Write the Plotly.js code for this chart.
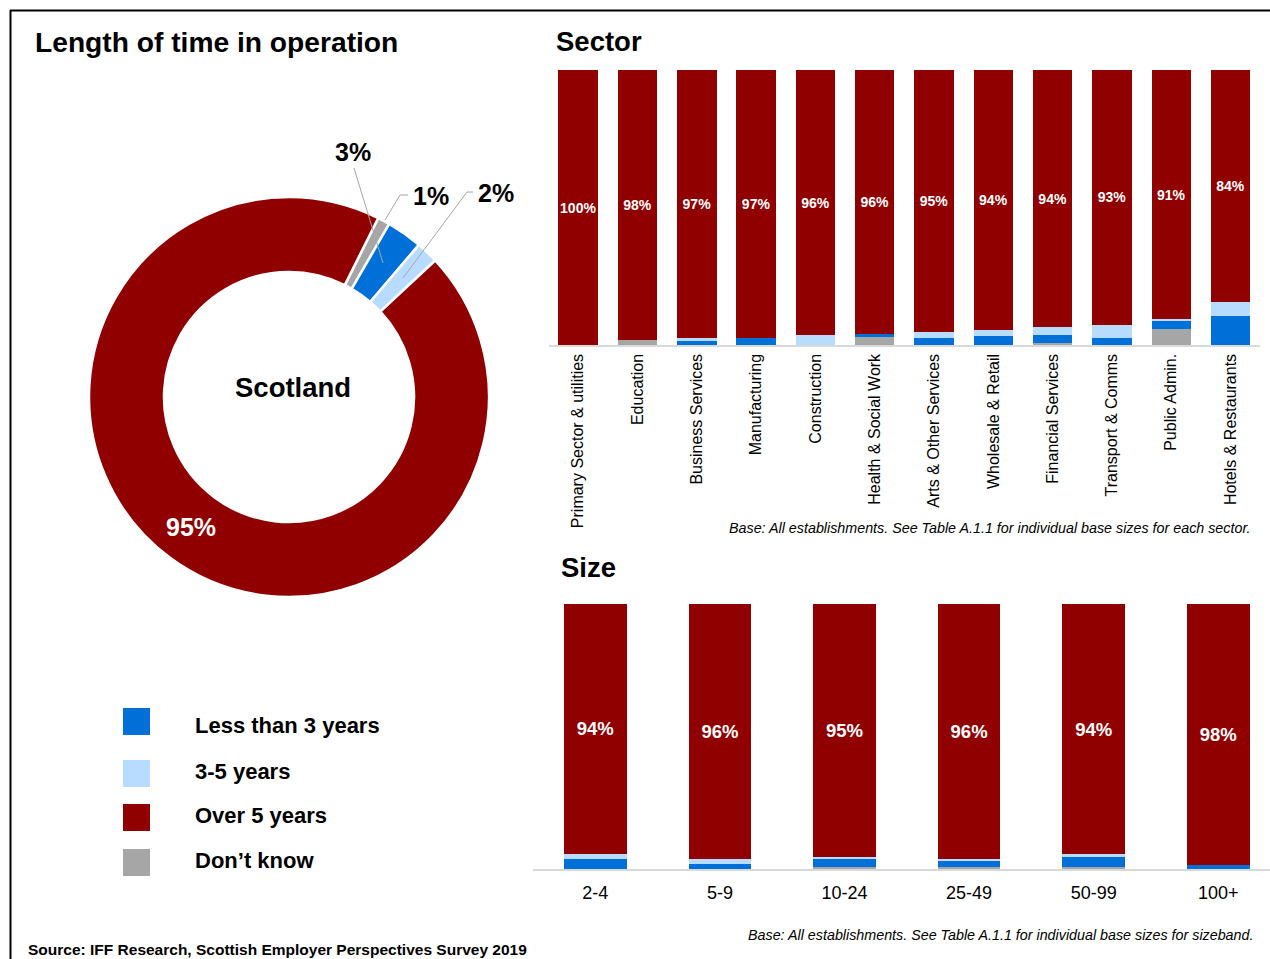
<!DOCTYPE html>
<html><head><meta charset="utf-8">
<script src="https://cdn.plot.ly/plotly-3.0.1.min.js"></script>
<style>html,body{margin:0;padding:0;background:#fff}#chart{width:1270px;height:959px}</style>
</head><body><div id="chart"></div>
<script>
// ---- data ----
const seriesNames = ['Less than 3 years', '3-5 years', 'Over 5 years', 'Don’t know'];
const seriesColors = ['#0070d9', '#b8dcff', '#900000', '#a6a6a6'];

const donutCentreLabel = 'Scotland';
const donutLabels = ['Don’t know', 'Less than 3 years', '3-5 years', 'Over 5 years'];
const donutValues = [1.0, 2.9, 1.8, 94.6];

const sectors = ['Primary Sector & utilities', 'Education', 'Business Services', 'Manufacturing', 'Construction',
  'Health & Social Work', 'Arts & Other Services', 'Wholesale & Retail', 'Financial Services',
  'Transport & Comms', 'Public Admin.', 'Hotels & Restaurants'];
const sectorLess3 = [0, 0, 1.3, 2.6, 0, 1.2, 2.7, 3.3, 2.8, 2.7, 2.9, 10.7];
const sector3to5 = [0, 0, 1.2, 0, 3.6, 0, 2.1, 2.3, 2.8, 4.7, 0.8, 5.1];
const sectorOver5 = [100, 98.3, 97.4, 97.4, 96.4, 96.0, 95.2, 94.4, 93.6, 92.6, 90.6, 84.2];
const sectorDontKnow = [0, 1.7, 0, 0, 0, 2.8, 0, 0, 0.8, 0, 5.7, 0];

const sizes = ['2-4', '5-9', '10-24', '25-49', '50-99', '100+'];
const sizeLess3 = [3.8, 1.9, 2.8, 2.3, 3.8, 1.6];
const size3to5 = [2.0, 2.0, 0.9, 0.9, 1.0, 0];
const sizeOver5 = [94.2, 96.1, 95.4, 96.0, 94.4, 98.4];
const sizeDontKnow = [0, 0, 0.9, 0.8, 0.8, 0];

const mainTitle = 'Length of time in operation';
const sectorTitle = 'Sector';
const sizeTitle = 'Size';
const sectorNote = 'Base: All establishments. See Table A.1.1 for individual base sizes for each sector.';
const sizeNote = 'Base: All establishments. See Table A.1.1 for individual base sizes for sizeband.';
const sourceNote = 'Source: IFF Research, Scottish Employer Perspectives Survey 2019';

// ---- helpers ----
const W = 1270, H = 959;
const FONT = 'Liberation Sans, Arial, sans-serif';
const px = x => x / W;
const py = y => 1 - y / H;
const colorOf = name => seriesColors[seriesNames.indexOf(name)];

function stackTraces(cats, dk, l3, m35, o5, xa, ya, barWidth, textSize) {
  const list = [[seriesNames[3], dk], [seriesNames[0], l3], [seriesNames[1], m35], [seriesNames[2], o5]];
  return list.map(([name, vals]) => {
    const t = {
      type: 'bar', name: name, x: cats, y: vals, xaxis: xa, yaxis: ya, width: barWidth,
      marker: {color: colorOf(name), line: {width: 0}},
      hoverinfo: 'skip', showlegend: false
    };
    if (name === seriesNames[2]) {
      t.texttemplate = '<b>%{y:.0f}%</b>';
      t.textposition = 'inside';
      t.insidetextanchor = 'middle';
      t.constraintext = 'none';
      t.textangle = 0;
      t.textfont = {color: '#ffffff', size: textSize, family: FONT};
    } else {
      t.textposition = 'none';
    }
    return t;
  });
}

const traces = [];
traces.push({
  type: 'pie', labels: donutLabels, values: donutValues, sort: false,
  direction: 'clockwise', rotation: 26.5, hole: 0.625,
  marker: {colors: donutLabels.map(colorOf), line: {color: '#ffffff', width: 2.5}},
  textinfo: 'none', hoverinfo: 'skip', showlegend: false,
  domain: {x: [px(89), px(489)], y: [py(597), py(197)]}
});
traces.push(...stackTraces(sectors, sectorDontKnow, sectorLess3, sector3to5, sectorOver5, 'x', 'y', 0.666, 14));
traces.push(...stackTraces(sizes, sizeDontKnow, sizeLess3, size3to5, sizeOver5, 'x2', 'y2', 0.504, 18.5));

const ann = [];
const shapes = [];
function text(t, x, y, size, opts) {
  ann.push(Object.assign({text: t, x: px(x), y: py(y), xref: 'paper', yref: 'paper', showarrow: false,
    xanchor: 'left', yanchor: 'middle', font: {family: FONT, size: size, color: '#000000'}}, opts || {}));
}
function line(pts) {
  for (let i = 0; i < pts.length - 1; i++) {
    shapes.push({type: 'line', xref: 'paper', yref: 'paper', x0: px(pts[i][0]), y0: py(pts[i][1]),
      x1: px(pts[i + 1][0]), y1: py(pts[i + 1][1]), line: {color: '#a6a6a6', width: 1}});
  }
}

// titles
text('<b>' + mainTitle + '</b>', 33, 42, 28.2);
text('<b>' + sectorTitle + '</b>', 554, 42, 27.5);
text('<b>' + sizeTitle + '</b>', 559, 567, 27.5);
// donut labels
const pct = v => Math.round(v) + '%';
text('<b>' + donutCentreLabel + '</b>', 293, 387, 27.5, {xanchor: 'center'});
text('<b>' + pct(donutValues[3]) + '</b>', 191, 527, 25, {xanchor: 'center', font: {family: FONT, size: 25, color: '#ffffff'}});
text('<b>' + pct(donutValues[1]) + '</b>', 353, 152, 25, {xanchor: 'center'});
text('<b>' + pct(donutValues[0]) + '</b>', 431, 196, 25, {xanchor: 'center'});
text('<b>' + pct(donutValues[2]) + '</b>', 496, 193, 25, {xanchor: 'center'});
line([[354, 168], [383, 263]]);
line([[408, 195], [400, 195], [385, 220]]);
line([[473, 192], [467, 192], [403, 278]]);

// legend
const legendRows = [[seriesNames[0], 721.5, 725], [seriesNames[1], 773.5, 771], [seriesNames[2], 817.5, 815], [seriesNames[3], 862.5, 860]];
legendRows.forEach(([name, yc, yt]) => {
  shapes.push({type: 'rect', xref: 'paper', yref: 'paper', x0: px(123), x1: px(150), y0: py(yc + 13.5), y1: py(yc - 13.5),
    fillcolor: colorOf(name), line: {width: 0}});
  text('<b>' + name + '</b>', 193, yt, 22);
});

// notes
text('<i>' + sectorNote + '</i>', 1253, 528, 14.3, {xanchor: 'right'});
text('<i>' + sizeNote + '</i>', 1255, 935, 14.3, {xanchor: 'right'});
text('<b>' + sourceNote + '</b>', 26, 949, 15.5);

// frame
shapes.push({type: 'line', xref: 'paper', yref: 'paper', x0: px(10), x1: px(1275), y0: py(10.5), y1: py(10.5), line: {color: '#000000', width: 2}});
shapes.push({type: 'line', xref: 'paper', yref: 'paper', x0: px(10.5), x1: px(10.5), y0: py(10), y1: py(965), line: {color: '#000000', width: 2}});

const layout = {
  width: W, height: H, margin: {l: 0, r: 0, t: 0, b: 0},
  paper_bgcolor: '#ffffff', plot_bgcolor: 'rgba(0,0,0,0)',
  barmode: 'stack', showlegend: false,
  font: {family: FONT, color: '#000000'},
  xaxis: {domain: [px(548.6), px(1260.2)], type: 'category', range: [-0.5, 11.5], tickangle: -90,
    showline: true, linecolor: '#d9d9d9', linewidth: 1.5, showgrid: false, zeroline: false, ticks: '',
    ticklabelstandoff: 1, tickfont: {size: 16, family: FONT, color: '#000000'}, fixedrange: true},
  yaxis: {domain: [py(345), py(70)], range: [0, 100], visible: false, fixedrange: true},
  xaxis2: {domain: [px(533), 1], type: 'category', range: [-0.5, 5.415], anchor: 'y2',
    showline: true, linecolor: '#d9d9d9', linewidth: 1.5, showgrid: false, zeroline: false, ticks: '',
    ticklabelstandoff: 7, tickfont: {size: 18, family: FONT, color: '#000000'}, fixedrange: true},
  yaxis2: {domain: [py(869.3), py(604)], range: [0, 100], visible: false, anchor: 'x2', fixedrange: true},
  annotations: ann, shapes: shapes
};

Plotly.newPlot('chart', traces, layout, {staticPlot: true, displayModeBar: false});
</script></body></html>
